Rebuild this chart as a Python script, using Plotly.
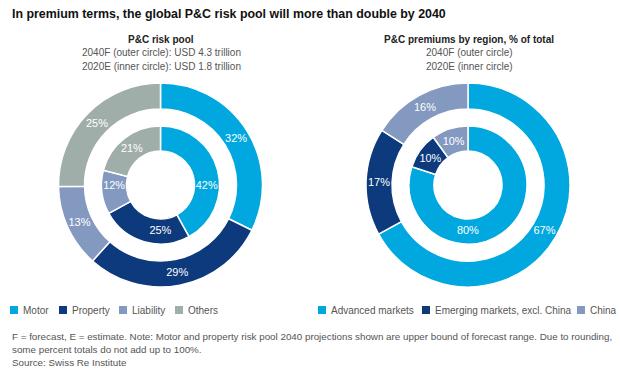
import plotly.graph_objects as go

W, H = 620, 372

# ---- data ----
pool_labels = ["Motor", "Property", "Liability", "Others"]
pool_2040 = [32, 29, 13, 25]
pool_2020 = [42, 25, 12, 21]
pool_colors = ["#00a8df", "#0d3a7d", "#8399c0", "#a0aea9"]

region_labels = ["Advanced markets", "Emerging markets, excl. China", "China"]
region_2040 = [67, 17, 16]
region_2020 = [80, 10, 10]
region_colors = ["#00a8df", "#0d3a7d", "#8399c0"]

title = "In premium terms, the global P&C risk pool will more than double by 2040"
left_sub = ["P&C risk pool", "2040F (outer circle): USD 4.3 trillion", "2020E (inner circle): USD 1.8 trillion"]
right_sub = ["P&C premiums by region, % of total", "2040F (outer circle)", "2020E (inner circle)"]
footnotes = [
    "F = forecast, E = estimate. Note: Motor and property risk pool 2040 projections shown are upper bound of forecast range. Due to rounding,",
    "some percent totals do not add up to 100%.",
    "Source: Swiss Re Institute",
]

FONT = "Liberation Sans"


def dom(cx, cy, r):
    return dict(x=[(cx - r) / W, (cx + r) / W], y=[1 - (cy + r) / H, 1 - (cy - r) / H])


def pie(labels, values, colors, cx, cy, r, hole):
    return go.Pie(
        labels=labels, values=values, sort=False, direction="clockwise", rotation=0,
        hole=hole, domain=dom(cx, cy, r),
        marker=dict(colors=colors, line=dict(color="white", width=1.5)),
        texttemplate="%{value}%", textposition="inside", insidetextorientation="horizontal",
        textfont=dict(family=FONT, size=11, color="white"),
        showlegend=False, hoverinfo="label+value",
    )


R_OUT, R_OUT_IN, R_IN, R_IN_IN = 102, 76, 59, 34
LCX, RCX, CY = 160.5, 468, 185

fig = go.Figure()
fig.add_trace(pie(pool_labels, pool_2040, pool_colors, LCX, CY, R_OUT, R_OUT_IN / R_OUT))
fig.add_trace(pie(pool_labels, pool_2020, pool_colors, LCX, CY, R_IN, R_IN_IN / R_IN))
fig.add_trace(pie(region_labels, region_2040, region_colors, RCX, CY, R_OUT, R_OUT_IN / R_OUT))
fig.add_trace(pie(region_labels, region_2020, region_colors, RCX, CY, R_IN, R_IN_IN / R_IN))

ann = []
shapes = []


def text(x, y, s, size=10, color="#444", bold=False, anchor="left"):
    ann.append(dict(x=x / W, y=1 - y / H, xref="paper", yref="paper", text=f"<b>{s}</b>" if bold else s,
                    showarrow=False, xanchor=anchor, yanchor="middle",
                    font=dict(family=FONT, size=size, color=color)))


text(10, 14, title, size=12.4, color="#111", bold=True)
for i, s in enumerate(left_sub):
    text(161, 39 + i * 13.5, s, size=10, color="#222" if i == 0 else "#555", bold=(i == 0), anchor="center")
for i, s in enumerate(right_sub):
    text(469, 39 + i * 13.5, s, size=10, color="#222" if i == 0 else "#555", bold=(i == 0), anchor="center")
for i, s in enumerate(footnotes):
    text(10, 336 + i * 13, s, size=9.8, color="#555")

# legends
left_x = [10, 59, 119, 175]
right_x = [318, 422, 577]
LY = 310
for xs, labs, cols in ((left_x, pool_labels, pool_colors), (right_x, region_labels, region_colors)):
    for x, lab, col in zip(xs, labs, cols):
        shapes.append(dict(type="rect", xref="paper", yref="paper", x0=x / W, x1=(x + 8) / W,
                           y0=1 - (LY + 4) / H, y1=1 - (LY - 4) / H, fillcolor=col, line=dict(width=0)))
        text(x + 11, LY, lab, size=10, color="#555")

fig.update_layout(width=W, height=H, margin=dict(l=0, r=0, t=0, b=0), paper_bgcolor="white",
                  plot_bgcolor="white", showlegend=False, annotations=ann, shapes=shapes)
fig.write_html("out.html", config={"displayModeBar": False},
               post_script="document.body.style.margin='0';")
